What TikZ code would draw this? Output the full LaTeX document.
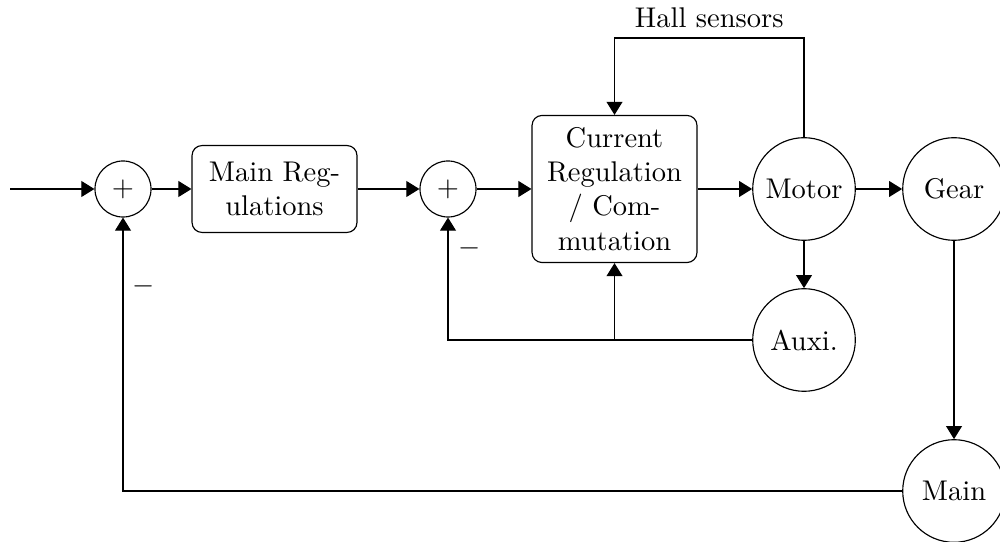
\documentclass[tikz,border=0pt]{standalone}
\usetikzlibrary{arrows.meta,calc}
\begin{document}
\begin{tikzpicture}[x=0.35088pt,y=-0.35088pt,
  >={Triangle[length=4.6pt,width=5.6pt]},
  sumnode/.style={draw,circle,inner sep=3.33pt},
  block/.style={draw,rounded corners=3.5pt,text width=1.8cm,align=center,inner sep=3.33pt},
  plant/.style={draw,circle,minimum size=36pt,inner sep=1pt},
  sign/.style={inner sep=0pt}]
\useasboundingbox (0,0) rectangle (1000,542);
% forward path
\coordinate (in) at (10,189);
\node[sumnode] (s1) at (123,189) {$+$};
\node[block,minimum height=30.5pt] (reg) at (274.5,189) {Main Regulations};
\node[sumnode] (s2) at (448,189) {$+$};
\node[block,minimum height=51.6pt] (cur) at (614.5,189) {Current Regulation / Commutation};
\node[plant] (motor) at (804,189) {Motor};
\node[plant] (gear) at (954,189) {Gear};
\node[plant] (aux) at (804,340) {Auxi.};
\node[plant] (main) at (954,491) {Main};
% routing points
\coordinate (hallR) at (804,38);
\coordinate (hallL) at (614.5,38);
\coordinate (auxL) at (448,340);
\coordinate (auxM) at (614.5,340);
\coordinate (mainL) at (123,491);
% sign labels
\node[sign] (m2) at (470,248) {$-$};
\node[sign] (m1) at (144,286) {$-$};

\draw[->] (in) -- (s1);
\draw[->] (s1) -- (reg);
\draw[->] (reg) -- (s2);
\draw[->] (s2) -- (cur);
\draw[->] (cur) -- (motor);
\draw[->] (motor) -- (gear);
\draw[->] (motor) -- (aux);
\draw[->] (gear) -- (main);
% Hall sensor feedback
\draw[->] (motor.north) -- (hallR) -- node[above] {Hall sensors} (hallL) -- (cur.north);
% auxiliary feedback
\draw[->] (aux.west) -- (auxL) -- (s2.south);
\draw[->] (auxM) -- (cur.south);
% main feedback
\draw[->] (main.west) -- (mainL) -- (s1.south);
\end{tikzpicture}
\end{document}
